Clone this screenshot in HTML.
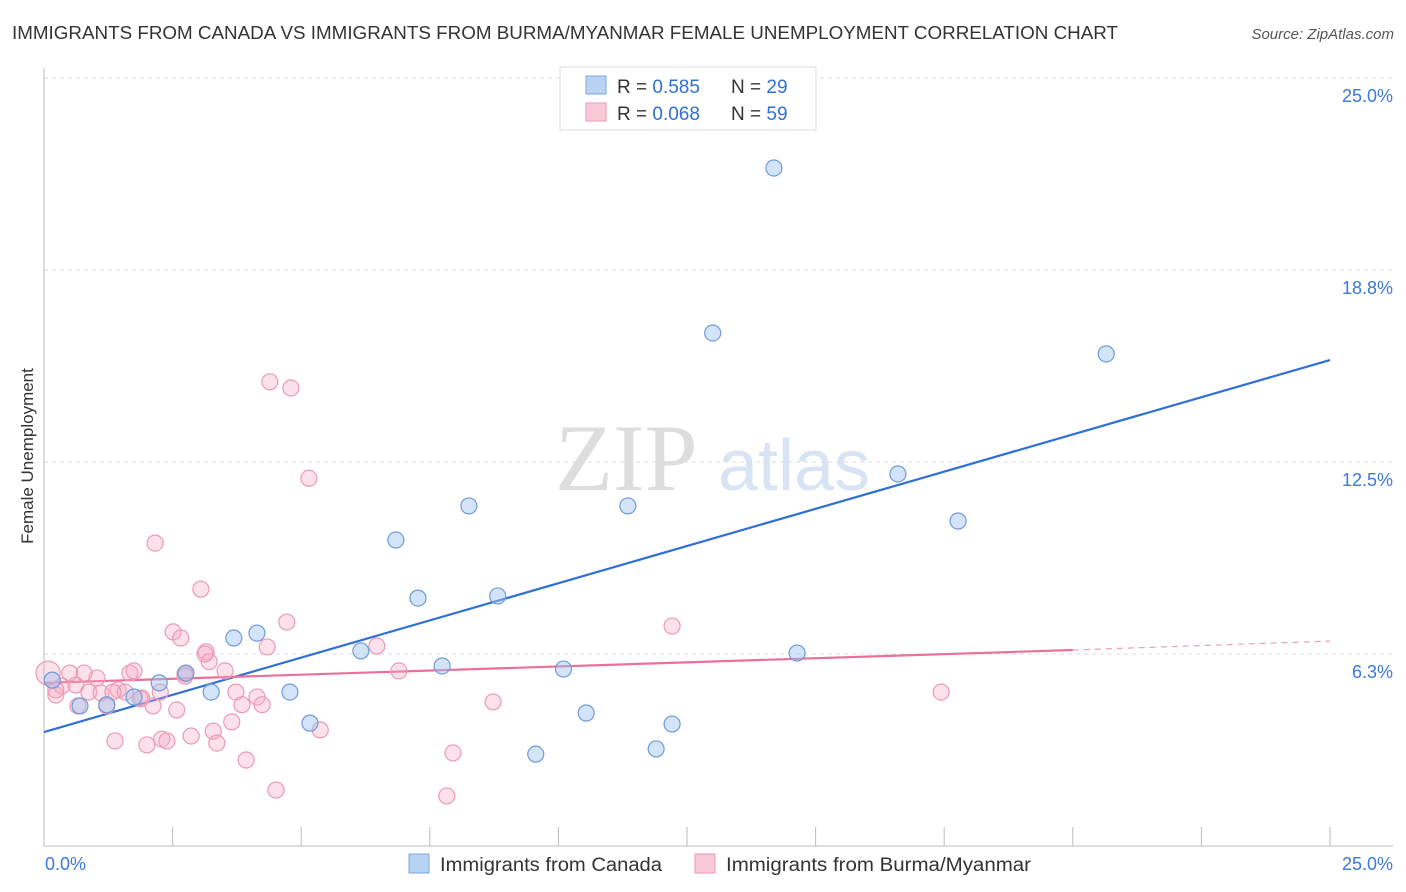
<!DOCTYPE html>
<html><head><meta charset="utf-8"><style>
body{margin:0;background:#fff;font-family:"Liberation Sans",sans-serif}
#c{position:absolute;left:0;top:0}
</style></head><body>
<svg id="c" width="1406" height="892">
<text x="12" y="39" font-size="18" fill="#333" textLength="1106" lengthAdjust="spacingAndGlyphs">IMMIGRANTS FROM CANADA VS IMMIGRANTS FROM BURMA/MYANMAR FEMALE UNEMPLOYMENT CORRELATION CHART</text>
<text x="1394" y="39" font-size="15" fill="#555" font-style="italic" text-anchor="end">Source: ZipAtlas.com</text>
<text x="0" y="0" font-size="17" fill="#333" transform="translate(33,456) rotate(-90)" text-anchor="middle">Female Unemployment</text>
<text x="555" y="490" font-size="95" fill="#ddd" font-family="Liberation Serif">ZIP</text>
<text x="718" y="490" font-size="72" fill="#d8e4f4">atlas</text>
<g id="grid"></g><g id="axes"></g><g id="lines"></g><g id="pts"></g>
<g>
<rect x="560" y="67" width="256" height="63" fill="#fff" stroke="#ddd"/>
<rect x="586" y="76" width="20" height="18" fill="#b8d2f4" stroke="#7ea6de"/>
<text x="617" y="93" font-size="19" fill="#333">R = <tspan fill="#2f6fd6">0.585</tspan></text>
<text x="731" y="93" font-size="19" fill="#333">N = <tspan fill="#2f6fd6">29</tspan></text>
<rect x="586" y="103" width="20" height="18" fill="#f9c9d7" stroke="#e89ab2"/>
<text x="617" y="120" font-size="19" fill="#333">R = <tspan fill="#2f6fd6">0.068</tspan></text>
<text x="731" y="120" font-size="19" fill="#333">N = <tspan fill="#2f6fd6">59</tspan></text>
</g>
<g>
<rect x="409" y="854" width="20" height="19" fill="#b8d2f4" stroke="#7ea6de"/>
<text x="440" y="871" font-size="19" fill="#333" textLength="222" lengthAdjust="spacingAndGlyphs">Immigrants from Canada</text>
<rect x="695" y="854" width="20" height="19" fill="#f9c9d7" stroke="#e89ab2"/>
<text x="726" y="871" font-size="19" fill="#333" textLength="305" lengthAdjust="spacingAndGlyphs">Immigrants from Burma/Myanmar</text>
</g>
<text x="45" y="870" font-size="18" fill="#3b78d8">0.0%</text>
<text x="1393" y="870" font-size="18" fill="#3b78d8" text-anchor="end">25.0%</text>
</svg>
<script>
const yTicks=[6.25,12.5,18.75,25.0];
const yTickLabels=["6.3%","12.5%","18.8%","25.0%"];
const canadaX=[0.16,0.7,1.22,1.75,2.24,2.76,3.25,3.69,4.14,4.78,5.17,6.16,6.84,7.27,7.74,8.26,8.82,9.56,10.1,10.54,11.35,11.9,12.21,13.0,14.19,14.64,16.6,17.77,20.65];
const canadaY=[5.4,4.56,4.6,4.85,5.31,5.63,5.01,6.77,6.93,5.01,4.0,6.35,9.96,8.07,5.86,11.07,8.14,2.99,5.76,4.33,11.07,3.16,3.97,16.7,22.07,6.28,12.11,10.58,16.02];
const burmaX=[0.08,0.23,0.35,0.5,0.62,0.78,0.87,1.03,1.11,1.22,1.38,1.44,1.58,1.67,1.75,1.9,2.0,2.12,2.16,2.26,2.29,2.39,2.51,2.58,2.66,2.74,2.86,3.05,3.15,3.21,3.29,3.36,3.52,3.65,3.73,3.85,3.93,4.14,4.24,4.34,4.39,4.51,4.72,4.8,5.15,5.37,6.47,6.9,7.83,7.95,8.73,12.21,17.44,0.23,0.66,1.87,2.74,3.13,1.34];
const burmaY=[5.63,4.92,5.21,5.63,5.24,5.63,5.01,5.47,4.98,4.56,3.42,5.08,5.01,5.63,5.7,4.82,3.29,4.56,9.86,5.01,3.48,3.42,6.97,4.43,6.77,5.6,3.58,8.36,6.32,6.0,3.74,3.35,5.7,4.04,5.01,4.6,2.8,4.85,4.6,6.48,15.11,1.82,7.29,14.91,11.97,3.78,6.51,5.7,1.63,3.03,4.69,7.16,5.01,5.08,4.56,4.79,5.53,6.25,5.01];
const blueFit=[3.71,15.82], pinkFit=[5.31,6.38,6.67], pinkSolidEnd=20;
const X=v=>44+v*51.44, Y=v=>846-v*30.72;
const NS="http://www.w3.org/2000/svg";
function mk(parent,tag,attrs){const e=document.createElementNS(NS,tag);for(const k in attrs)e.setAttribute(k,attrs[k]);document.getElementById(parent).appendChild(e);return e;}
yTicks.forEach((yv,i)=>{
 const l=mk('grid','line',{x1:44,x2:1393,y1:Y(yv),y2:Y(yv),stroke:'#ddd','stroke-dasharray':'4,4'});
 
 
 const tx=mk('grid','text',{x:1393,y:Y(yv)+24,'font-size':18,fill:'#3b78d8','text-anchor':'end'});
 tx.textContent=yTickLabels[i];
 
 
});
const ax=mk('axes','line',{x1:44,x2:44,y1:68,y2:846,stroke:'#bbb'});


const bx=mk('axes','line',{x1:44,x2:1393,y1:846,y2:846,stroke:'#bbb'});


for(let i=0;i<=10;i++){const t=mk('axes','line',{x1:X(i*2.5),x2:X(i*2.5),y1:827,y2:846,stroke:'#bbb'});
 
 }
burmaX.forEach((v,i)=>{const c=mk('pts','circle',{cx:X(v),cy:Y(burmaY[i]),r:i==0?12:8,fill:'rgba(246,170,195,0.35)',stroke:'#eb9ab4','stroke-width':1.2});
 
 });
canadaX.forEach((v,i)=>{const c=mk('pts','circle',{cx:X(v),cy:Y(canadaY[i]),r:8,fill:'rgba(160,195,240,0.45)',stroke:'#6f9ad8','stroke-width':1.2});
 
 });
const bl=mk('lines','line',{x1:X(0),y1:Y(blueFit[0]),x2:X(25),y2:Y(blueFit[1]),stroke:'#2f6fd6','stroke-width':2.2});


const pl=mk('lines','line',{x1:X(0),y1:Y(pinkFit[0]),x2:X(pinkSolidEnd),y2:Y(pinkFit[1]),stroke:'#e8709a','stroke-width':2.2});


const pd=mk('lines','line',{x1:X(pinkSolidEnd),y1:Y(pinkFit[1]),x2:X(25),y2:Y(pinkFit[2]),stroke:'#e8a0b8','stroke-width':1.2,'stroke-dasharray':'6,5'});


</script>
</body></html>
